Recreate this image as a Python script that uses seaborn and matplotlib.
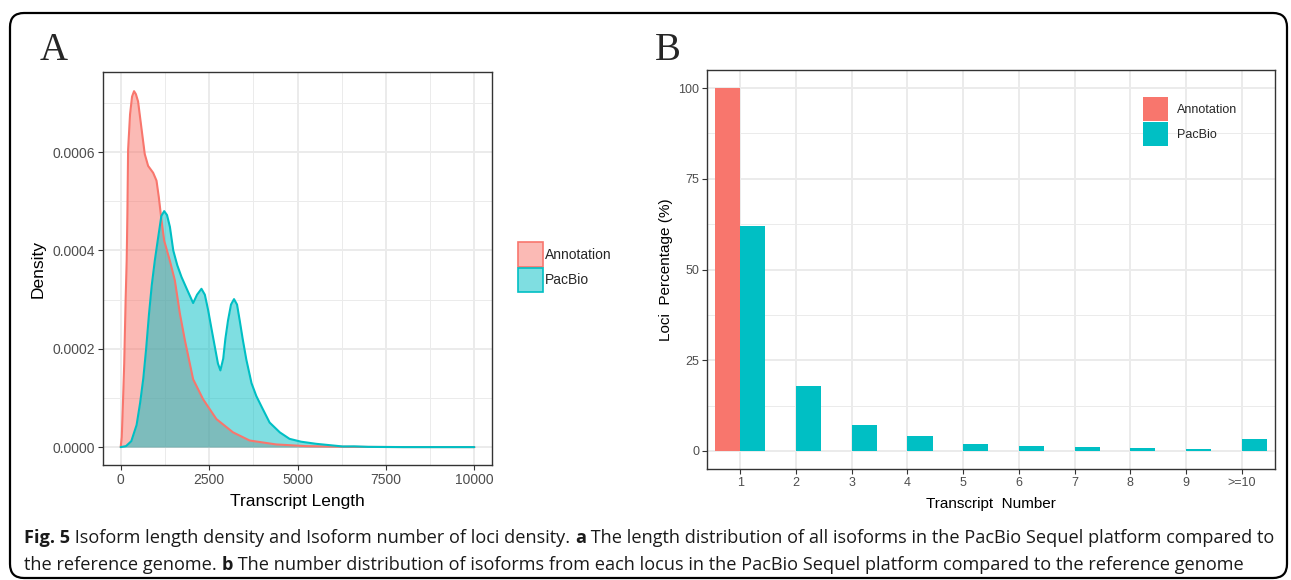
import numpy as np
import pandas as pd
import matplotlib
matplotlib.use("Agg")
import matplotlib.pyplot as plt
import seaborn as sns
from matplotlib.patches import Patch, FancyBboxPatch
from matplotlib.ticker import MultipleLocator, FuncFormatter
from matplotlib.colors import to_rgba

# ---------------- data ----------------
# Panel A: density curves
ann_length = [0, 30, 60, 100, 140, 170, 190, 210, 265, 322, 378, 430, 492, 587, 681, 776,
              918, 1013, 1079, 1155, 1230, 1391, 1532, 1673, 1814, 2049, 2331, 2707, 3177,
              3647, 4399, 5245, 6500, 8000, 10000]
ann_density = [0, 0.00002, 0.00008, 0.00017, 0.0003, 0.00038, 0.000475, 0.000605, 0.000677,
               0.000713, 0.000724, 0.000718, 0.000703, 0.000649, 0.000596, 0.000572,
               0.000558, 0.000542, 0.000508, 0.000461, 0.00042, 0.000379, 0.000339,
               0.000272, 0.000218, 0.000138, 0.0000973, 0.000057, 0.00003, 0.0000134,
               0.0000054, 0.000002, 0.0000005, 0.0000001, 0]
pac_length = [0, 150, 300, 450, 550, 640, 720, 800, 880, 966, 1061, 1150, 1230, 1310, 1392,
              1487, 1600, 1720, 1880, 2049, 2160, 2284, 2380, 2472, 2570, 2660, 2750, 2820,
              2900, 2960, 3036, 3120, 3205, 3290, 3365, 3450, 3553, 3700, 3835, 4000, 4211,
              4500, 4775, 5100, 5527, 6279, 6600, 7000, 8000, 10000]
pac_density = [0, 0.000002, 0.000012, 0.000045, 0.00009, 0.00014, 0.0002, 0.00027, 0.00033,
               0.00038, 0.000427, 0.00047, 0.00048, 0.000472, 0.000448, 0.0004, 0.00037,
               0.000346, 0.00032, 0.000293, 0.00031, 0.000322, 0.00031, 0.000279, 0.00024,
               0.000205, 0.00017, 0.000156, 0.00018, 0.00022, 0.000258, 0.00029, 0.000301,
               0.00029, 0.000258, 0.00022, 0.000178, 0.00013, 0.000104, 0.00008, 0.00005,
               0.00003, 0.0000168, 0.000011, 0.0000067, 0.0000013, 0.0000015, 0.0000005,
               0, 0]
density_xticks = [0, 2500, 5000, 7500, 10000]
density_yticks = [0, 0.0002, 0.0004, 0.0006]

# Panel B: loci percentage per transcript number
transcript_numbers = ["1", "2", "3", "4", "5", "6", "7", "8", "9", ">=10"]
annotation_pct = [100, 0, 0, 0, 0, 0, 0, 0, 0, 0]
pacbio_pct = [62.1, 17.9, 7.2, 4.0, 1.9, 1.4, 1.0, 0.8, 0.6, 3.3]
pct_yticks = [0, 25, 50, 75, 100]

series_names = ["Annotation", "PacBio"]
series_colors = ["#F8766D", "#00BFC4"]

caption_line1 = [("Fig. 5", "bold"),
                 (" Isoform length density and Isoform number of loci density. ", "normal"),
                 ("a", "bold"),
                 (" The length distribution of all isoforms in the PacBio Sequel platform compared to", "normal")]
caption_line2 = [("the reference genome. ", "normal"),
                 ("b", "bold"),
                 (" The number distribution of isoforms from each locus in the PacBio Sequel platform compared to the reference genome", "normal")]

# ---------------- style ----------------
sns.set_theme(style="white")
plt.rcParams['font.family'] = ['Liberation Sans', 'DejaVu Sans']

W, H = 1291, 580
fig = plt.figure(figsize=(W / 100, H / 100), dpi=100)
fig.patch.set_facecolor("white")

def px_axes(left, top, right, bottom):
    return fig.add_axes([left / W, 1 - bottom / H, (right - left) / W, (bottom - top) / H])

GRID = "#EBEBEB"
TICKC = "#4D4D4D"

def style_axes(ax, tick_size):
    ax.set_facecolor("white")
    for s in ax.spines.values():
        s.set_color("#333333")
        s.set_linewidth(1.0)
        s.set_visible(True)
    ax.grid(True, which="major", color=GRID, linewidth=1.4)
    ax.grid(True, which="minor", color=GRID, linewidth=0.7)
    ax.set_axisbelow(True)
    ax.tick_params(which="major", length=3.5, width=0.8, color="#333333",
                   labelsize=tick_size, labelcolor=TICKC, pad=2,
                   bottom=True, left=True, top=False, right=False)
    ax.tick_params(which="minor", length=0)

# ---------------- Panel A ----------------
axA = px_axes(103, 72, 492, 465)
dfA = pd.concat([
    pd.DataFrame({"length": ann_length, "density": ann_density, "group": series_names[0]}),
    pd.DataFrame({"length": pac_length, "density": pac_density, "group": series_names[1]}),
])
for name, col in zip(series_names, series_colors):
    sub = dfA[dfA["group"] == name]
    axA.fill_between(sub["length"], sub["density"], 0, color=col, alpha=0.5, linewidth=0, zorder=2)
    sns.lineplot(data=sub, x="length", y="density", color=col, linewidth=1.5, ax=axA,
                 sort=False, estimator=None, zorder=3)
style_axes(axA, 10)
axA.set_xlim(-500, 10500)
axA.set_ylim(-0.0000364, 0.000763)
axA.set_xticks(density_xticks)
axA.set_yticks(density_yticks)
axA.xaxis.set_minor_locator(MultipleLocator(1250))
axA.yaxis.set_minor_locator(MultipleLocator(0.0001))
axA.yaxis.set_major_formatter(FuncFormatter(lambda v, p: f"{v:.4f}"))
axA.set_xlabel("Transcript Length", fontsize=12.5, color="black", labelpad=5)
axA.set_ylabel("Density", fontsize=12.5, color="black", labelpad=5)

legA_handles = [Patch(facecolor=to_rgba(c, 0.5), edgecolor=c, linewidth=1.2) for c in series_colors]
fig.legend(legA_handles, series_names, loc="upper left",
           bbox_to_anchor=(518 / W, 1 - 242 / H), frameon=False, fontsize=10,
           handlelength=1.8, handleheight=2.35, labelspacing=0.08, handletextpad=0.15,
           borderpad=0, borderaxespad=0)

# ---------------- Panel B ----------------
axB = px_axes(707, 70, 1275, 469)
dfB = pd.DataFrame({
    "number": transcript_numbers * 2,
    "pct": annotation_pct + pacbio_pct,
    "group": [series_names[0]] * len(transcript_numbers) + [series_names[1]] * len(transcript_numbers),
})
sns.barplot(data=dfB, x="number", y="pct", hue="group", order=transcript_numbers,
            hue_order=series_names, palette=series_colors, width=0.9, saturation=1,
            dodge=True, gap=0, legend=False, ax=axB, zorder=3, linewidth=0)
style_axes(axB, 9)
axB.set_xlim(-0.6, 9.6)
axB.set_ylim(-5, 105)
axB.set_yticks(pct_yticks)
axB.yaxis.set_minor_locator(MultipleLocator(12.5))
axB.grid(False, axis="x", which="minor")
axB.set_xlabel("Transcript  Number", fontsize=11, color="black", labelpad=6)
axB.set_ylabel("Loci  Percentage (%)", fontsize=11, color="black", labelpad=4)

legB_handles = [Patch(facecolor=c, edgecolor="none") for c in series_colors]
fig.legend(legB_handles, series_names, loc="upper left",
           bbox_to_anchor=(1143 / W, 1 - 96.5 / H), frameon=False, fontsize=9,
           handlelength=2.0, handleheight=2.65, labelspacing=0.05, handletextpad=0.72,
           borderpad=0, borderaxespad=0)

# ---------------- panel letters ----------------
fig.text(40 / W, 1 - 60 / H, "A", fontsize=28, family="Liberation Serif", va="baseline", ha="left")
fig.text(655 / W, 1 - 60 / H, "B", fontsize=28, family="Liberation Serif", va="baseline", ha="left")

# ---------------- caption ----------------
renderer = fig.canvas.get_renderer()
cap_font = ["Open Sans", "DejaVu Sans"]

def draw_line(parts, x0, y_base, size):
    x = x0
    texts = []
    for s, wt in parts:
        t = fig.text(x / W, 1 - y_base / H, s, fontsize=size, fontweight=wt,
                     family=cap_font, va="baseline", ha="left", color="#1A1A1A")
        bb = t.get_window_extent(renderer)
        x = bb.x1
        texts.append(t)
    return texts, x

trial, end = draw_line(caption_line1, 24, 543, 12)
for t in trial:
    t.remove()
cap_size = 12 * (1272 - 24) / (end - 24)
draw_line(caption_line1, 24, 543, cap_size)
draw_line(caption_line2, 24, 570, cap_size)

# ---------------- outer frame ----------------
frame = FancyBboxPatch((10, 2), 1277, 565, boxstyle="round,pad=0,rounding_size=14",
                       transform=None, facecolor="none", edgecolor="black", linewidth=1.6)
fig.patches.append(frame)

fig.savefig("out.png", dpi=100, facecolor="white")
